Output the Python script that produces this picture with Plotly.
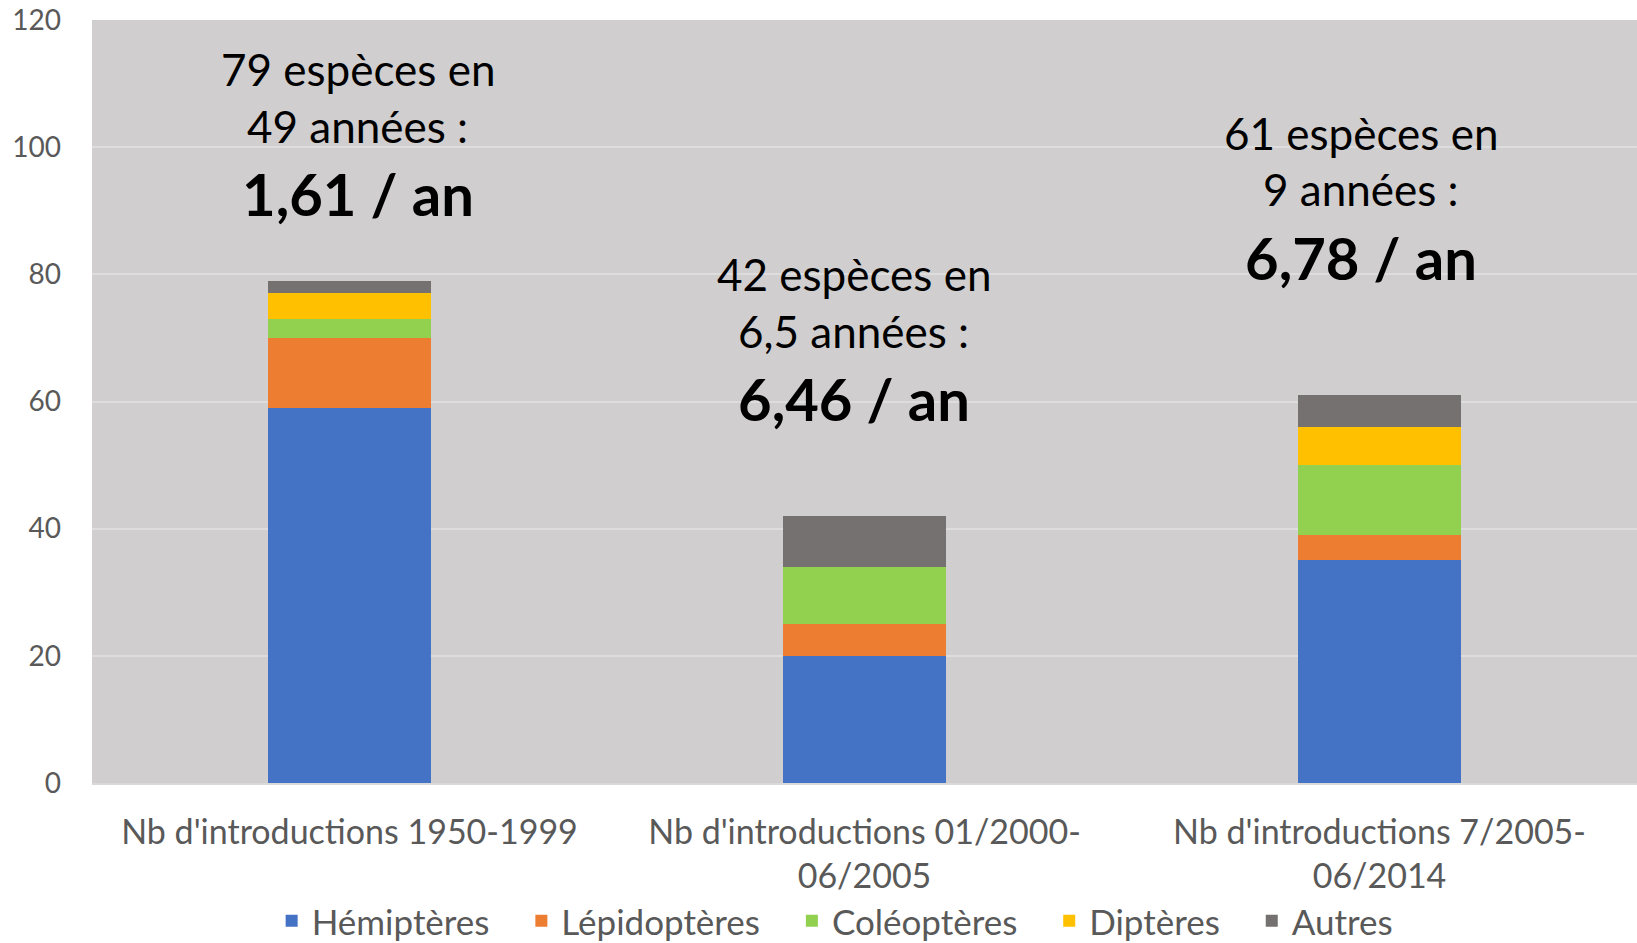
import plotly.graph_objects as go

categories = ["Nb d'introductions 1950-1999",
              "Nb d'introductions 01/2000-<br>06/2005",
              "Nb d'introductions 7/2005-<br>06/2014"]
series_names = ["Hémiptères", "Lépidoptères", "Coléoptères", "Diptères", "Autres"]
hemipteres = [59, 20, 35]
lepidopteres = [11, 5, 4]
coleopteres = [3, 9, 11]
dipteres = [4, 0, 6]
autres = [2, 8, 5]
colors = ["#4472C4", "#ED7D31", "#92D050", "#FFC000", "#767171"]

line1 = ["79 espèces en", "42 espèces en", "61 espèces en"]
line2 = ["49 années :", "6,5 années :", "9 années :"]
line3 = ["1,61 / an", "6,46 / an", "6,78 / an"]
line1_y = [112.35, 80.05, 102.25]
line2_y = [103.35, 71.15, 93.35]
line3_y = [92.65, 60.45, 82.65]
text_xshift = [8, -11, -19]

FONT = "Lato, Calibri, Carlito, sans-serif"
PAD = "\u00a0" * 3

fig = go.Figure()
for k, (name, vals, col) in enumerate(zip(series_names,
                                          [hemipteres, lepidopteres, coleopteres, dipteres, autres],
                                          colors)):
    label = name + (PAD if k < len(series_names) - 1 else "")
    fig.add_trace(go.Bar(x=categories, y=vals, name=label,
                         marker=dict(color=col, line=dict(width=0))))

annotations = []
for i, cat in enumerate(categories):
    annotations.append(dict(x=cat, y=line1_y[i], text=line1[i], showarrow=False,
                            xshift=text_xshift[i], yanchor="middle",
                            font=dict(family=FONT, size=44, color="#000000")))
    annotations.append(dict(x=cat, y=line2_y[i], text=line2[i], showarrow=False,
                            xshift=text_xshift[i], yanchor="middle",
                            font=dict(family=FONT, size=44, color="#000000")))
    annotations.append(dict(x=cat, y=line3_y[i], text="<b>" + line3[i] + "</b>", showarrow=False,
                            xshift=text_xshift[i], yanchor="middle",
                            font=dict(family=FONT, size=58, color="#000000")))

fig.update_layout(
    barmode="stack",
    bargap=0.685,
    width=1637, height=943,
    margin=dict(l=92, r=0, t=20, b=160, pad=0, autoexpand=False),
    paper_bgcolor="#FFFFFF",
    plot_bgcolor="#D0CECE",
    font=dict(family=FONT, color="#595959", size=28),
    showlegend=True,
    legend=dict(orientation="h", x=0.481, xanchor="center", y=-0.181, yanchor="middle",
                font=dict(family=FONT, size=35, color="#595959"),
                traceorder="normal", itemwidth=30, itemsizing="constant"),
    annotations=annotations,
)
fig.update_yaxes(range=[0, 120], dtick=20, showgrid=True, gridcolor="#DEDDDD", gridwidth=1.5,
                 zeroline=False, showline=False, ticks="", ticklabelstandoff=30, automargin=False,
                 tickfont=dict(family=FONT, size=28, color="#595959"))
fig.update_xaxes(showgrid=False, zeroline=False, showline=True, linecolor="#D9D9D9", linewidth=2,
                 ticks="", ticklabelstandoff=18, automargin=False,
                 tickfont=dict(family=FONT, size=34, color="#595959"))

fig.write_html("out.html", config={"displayModeBar": False},
               post_script="document.body.style.margin='0';document.body.style.overflow='hidden';")
